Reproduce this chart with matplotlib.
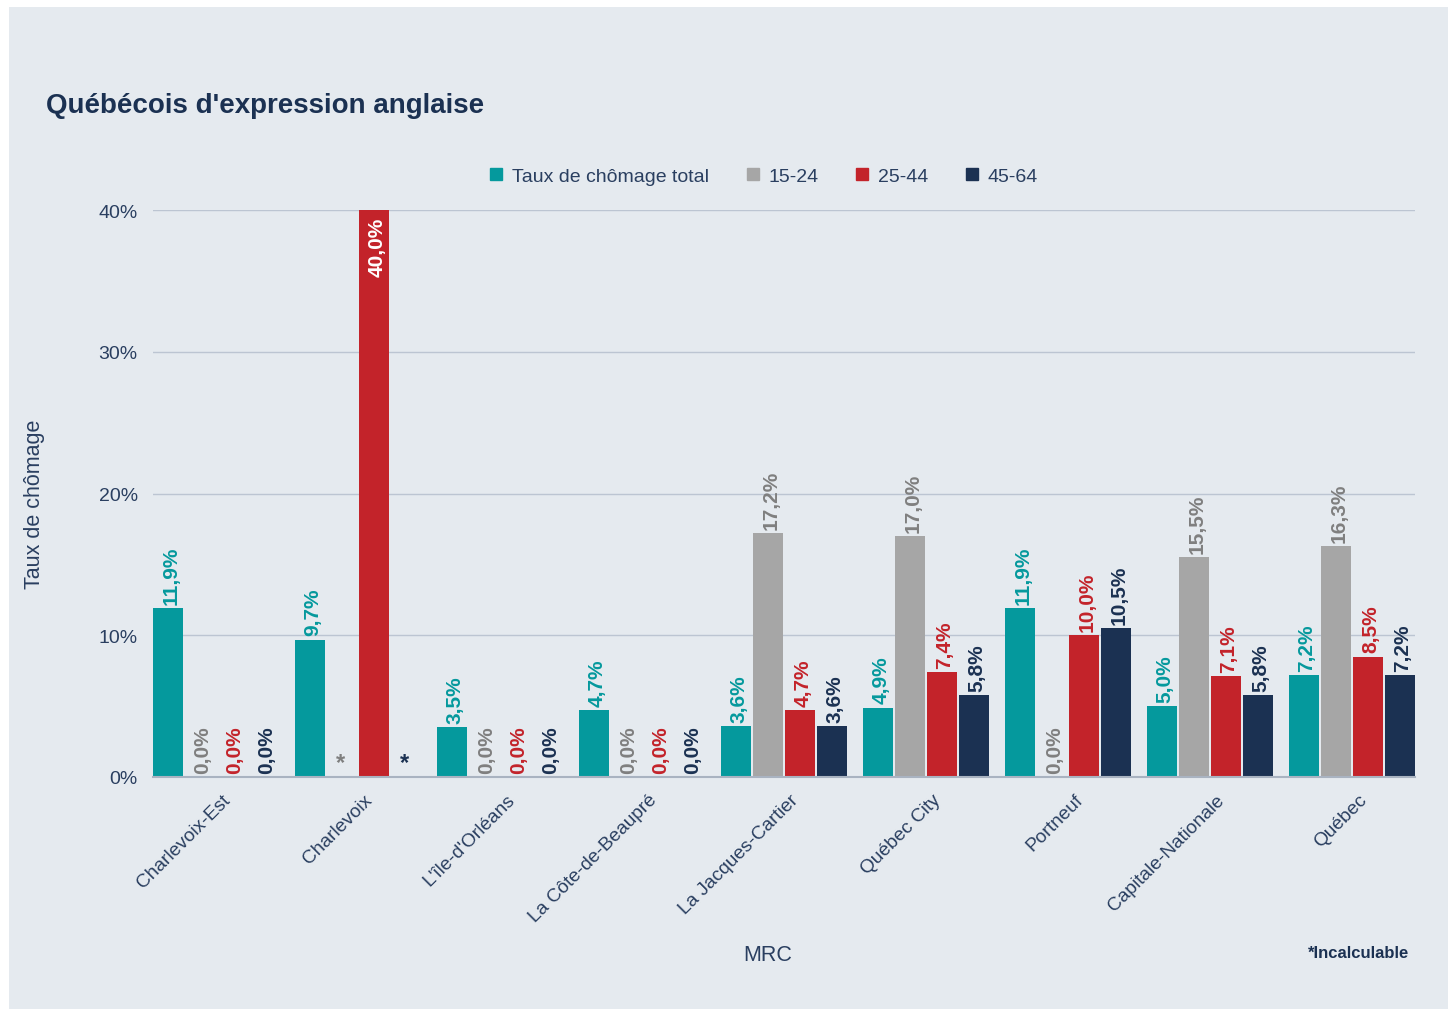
import matplotlib
matplotlib.use("Agg")
import matplotlib.pyplot as plt
import matplotlib.transforms as mtransforms
import numpy as np
from matplotlib.patches import Rectangle

plt.rcParams['font.family'] = ['Liberation Sans', 'DejaVu Sans']

categories = ["Charlevoix-Est", "Charlevoix", "L'île-d'Orléans", "La Côte-de-Beaupré",
              "La Jacques-Cartier", "Québec City", "Portneuf", "Capitale-Nationale", "Québec"]
series_names = ["Taux de chômage total", "15-24", "25-44", "45-64"]
total = [11.9, 9.7, 3.5, 4.7, 3.6, 4.9, 11.9, 5.0, 7.2]
age_15_24 = [0.0, None, 0.0, 0.0, 17.2, 17.0, 0.0, 15.5, 16.3]
age_25_44 = [0.0, 40.0, 0.0, 0.0, 4.7, 7.4, 10.0, 7.1, 8.5]
age_45_64 = [0.0, None, 0.0, 0.0, 3.6, 5.8, 10.5, 5.8, 7.2]
yticks = [0, 10, 20, 30, 40]

colors = ["#05999d", "#a6a6a6", "#c3232a", "#1b3152"]
label_colors = ["#05999d", "#7f7f7f", "#c3232a", "#1b3152"]
text_color = "#2a3f60"
bg = "#e5eaef"

W, H = 1450, 1012
fig = plt.figure(figsize=(W / 100, H / 100), dpi=100, facecolor="white")
fig.patches.append(Rectangle((9 / W, 1 - 1010 / H), (1448 - 9) / W, (1010 - 8) / H,
                             transform=fig.transFigure, facecolor=bg, edgecolor="none", zorder=-10))

ax_l, ax_r, ax_t, ax_b = 153, 1415, 211, 778
ax = fig.add_axes([ax_l / W, 1 - ax_b / H, (ax_r - ax_l) / W, (ax_b - ax_t) / H])
ax.set_facecolor("none")

pitch = 32 / 142
bw = 30 / 142
span = 126 / 142
lab_dx = 3 / 142
x = np.arange(len(categories))
allseries = [total, age_15_24, age_25_44, age_45_64]

for s, vals in enumerate(allseries):
    offs = -1.5 * pitch + s * pitch
    for i, v in enumerate(vals):
        xc = x[i] + offs
        if v is None:
            ax.text(xc - 2 / 142, 0.2, "*", color=label_colors[s], fontsize=17,
                    fontweight="bold", ha="center", va="bottom")
            continue
        if v > 0:
            ax.bar(xc, v, width=bw, color=colors[s], zorder=3)
        lab = f"{v:.1f}%".replace(".", ",")
        if v >= 39:
            ax.text(xc + lab_dx, v - 0.5, lab, rotation=90, color="white", fontsize=15,
                    fontweight="bold", ha="center", va="top", zorder=4)
        else:
            ax.text(xc + lab_dx, v + 0.3, lab, rotation=90, color=label_colors[s], fontsize=15,
                    fontweight="bold", ha="center", va="bottom", zorder=4)

ax.set_xlim(-span / 2, len(categories) - 1 + span / 2)
ax.set_ylim(0, 40)
ax.set_yticks(yticks)
ax.set_yticklabels([f"{t}%" for t in yticks], color=text_color, fontsize=14)
ax.set_xticks(x)
ax.set_xticklabels([])
cat_tr = ax.get_xaxis_transform() + mtransforms.ScaledTranslation(6 / 100, -14 / 100,
                                                                  fig.dpi_scale_trans)
for xi, name in zip(x, categories):
    ax.text(xi, 0, name, transform=cat_tr, rotation=45, ha="right", va="top",
            rotation_mode="anchor", color=text_color, fontsize=13.75)
ax.tick_params(axis="both", length=0)
ax.tick_params(axis="y", pad=11)
ax.grid(axis="y", color="#bcc5d2", linewidth=1, zorder=0)
ax.set_axisbelow(True)
for sp in ["left", "right", "top"]:
    ax.spines[sp].set_visible(False)
ax.spines["bottom"].set_color("#a9b3c1")
ax.spines["bottom"].set_linewidth(1.5)
ax.spines["bottom"].set_zorder(5)

handles = [plt.Line2D([], [], marker="s", linestyle="none", markersize=8,
                      markerfacecolor=c, markeredgecolor=c) for c in colors]
fig.legend(handles, series_names, loc="center", bbox_to_anchor=(762 / W, 1 - 177 / H),
           ncol=4, frameon=False, fontsize=14, handletextpad=0.3, columnspacing=1.75,
           labelcolor=text_color, handlelength=1.0)

fig.text(46 / W, 1 - 106 / H, "Québécois d'expression anglaise", fontsize=20,
         fontweight="bold", color="#1b3152", ha="left", va="center")
fig.text(35 / W, 1 - 504 / H, "Taux de chômage", rotation=90, fontsize=15.5,
         color=text_color, ha="center", va="center")
fig.text(768 / W, 1 - 956 / H, "MRC", fontsize=15.5, color=text_color, ha="center", va="center")
fig.text(1409 / W, 1 - 954 / H, "*Incalculable", fontsize=12, fontweight="bold",
         color="#1b3152", ha="right", va="center")

fig.savefig("out.png", dpi=100, facecolor="white")
